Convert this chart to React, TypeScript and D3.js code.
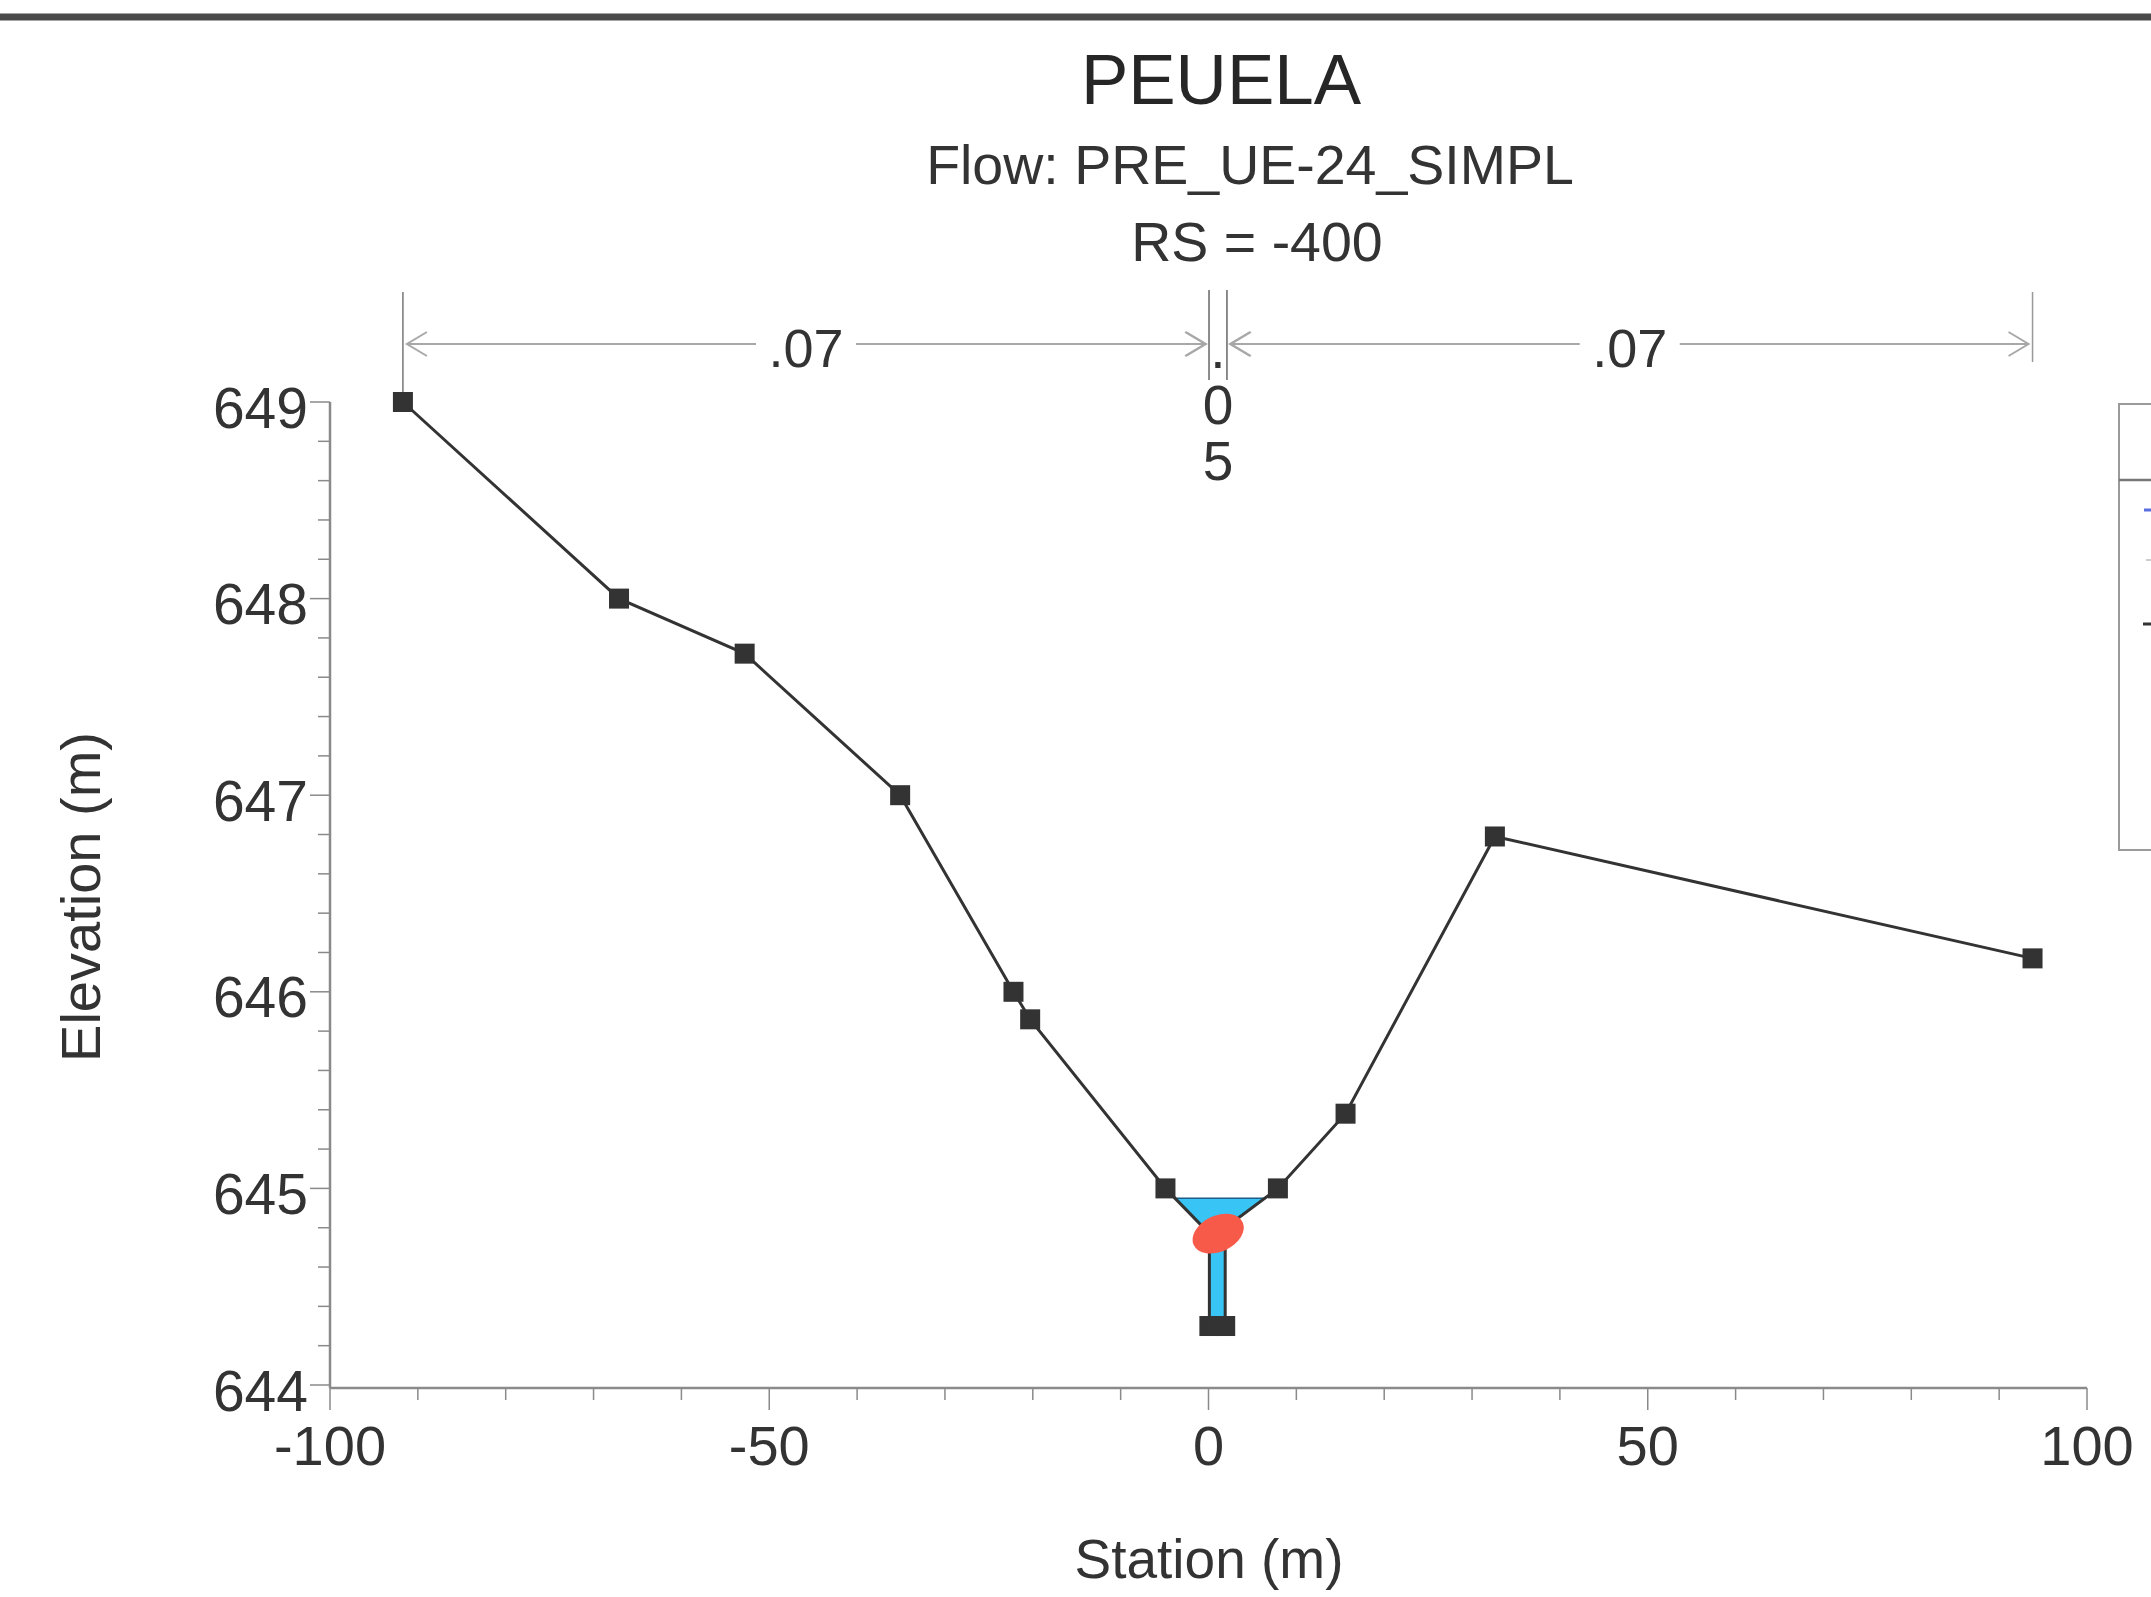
import React from "react";
import * as d3 from "d3";

const W = 2151;
const H = 1597;

// Ground profile (station m, elevation m)
const groundStation = [-91.7, -67.1, -52.8, -35.1, -22.2, -20.3, -4.9, 0.1, 0.1, 1.9, 1.9, 7.9, 15.6, 32.6, 93.8];
const groundElev = [649.0, 648.0, 647.72, 647.0, 646.0, 645.86, 645.0, 644.77, 644.3, 644.3, 644.8, 645.0, 645.38, 646.79, 646.17];
const markerShown = [1, 1, 1, 1, 1, 1, 1, 0, 1, 1, 0, 1, 1, 1, 1];

// Water surface elevation
const wsElev = 644.95;
// Red marker (blob) location
const blobStation = 1.1;
const blobElev = 644.77;

// Manning's n regions
const nBreaks = [-91.7, 0.06, 2.1, 93.8];
const nLabels = [".07", ".05", ".07"];

const xTicks = [-100, -50, 0, 50, 100];
const yTicks = [644, 645, 646, 647, 648, 649];

const titleText = "PEUELA";
const flowText = "Flow: PRE_UE-24_SIMPL";
const rsText = "RS = -400";
const xLabel = "Station (m)";
const yLabel = "Elevation (m)";

const FONT = "'Liberation Sans', Arial, sans-serif";

export default function App() {
  const x = d3.scaleLinear().domain([-100, 100]).range([330, 2087]);
  const y = d3.scaleLinear().domain([644, 649]).range([1385, 402]);

  const pts = groundStation.map((s, i) => [s, groundElev[i]] as [number, number]);
  const line = d3.line<[number, number]>().x((d) => x(d[0])).y((d) => y(d[1]));

  // water polygon: find crossing around lowest section
  const minIdx = groundElev.indexOf(d3.min(groundElev) as number);
  let li = minIdx;
  while (li > 0 && groundElev[li - 1] < wsElev) li--;
  let ri = minIdx;
  while (ri < groundElev.length - 1 && groundElev[ri + 1] < wsElev) ri++;
  const interp = (a: [number, number], b: [number, number]) => {
    const t = (wsElev - a[1]) / (b[1] - a[1]);
    return [a[0] + t * (b[0] - a[0]), wsElev] as [number, number];
  };
  const waterPts: [number, number][] = [
    interp(pts[li - 1], pts[li]),
    ...pts.slice(li, ri + 1),
    interp(pts[ri + 1], pts[ri]),
  ];
  const waterPath = line(waterPts) + "Z";

  const xMinor = d3.range(-100, 100.001, 10);
  const yMinor = d3.range(644, 649.001, 0.2);

  const nLineY = 344;
  const axisColor = "#8a8a8a";
  const annColor = "#a8a8a8";

  const chevron = (px: number, dir: number) =>
    `M${px - dir * 20},${nLineY - 12} L${px},${nLineY} L${px - dir * 20},${nLineY + 12}`;

  return (
    <svg
      width={W}
      height={H}
      style={{ position: "absolute", left: 0, top: 0, display: "block", background: "#fff" }}
      fontFamily={FONT}
    >
      <rect x={0} y={0} width={W} height={H} fill="#fff" />
      {/* top border */}
      <line x1={0} x2={W} y1={17} y2={17} stroke="#4a4a4a" strokeWidth={7} />

      {/* titles */}
      <text x={1221} y={104} fontSize={71} textAnchor="middle" fill="#262626">{titleText}</text>
      <text x={1250} y={184} fontSize={55.5} textAnchor="middle" fill="#333">{flowText}</text>
      <text x={1257} y={261} fontSize={55.5} textAnchor="middle" fill="#333">{rsText}</text>

      {/* n-value annotation */}
      <g>
        <line x1={x(nBreaks[0])} x2={x(nBreaks[0])} y1={292} y2={400} stroke="#777" strokeWidth={1.5} />
        <line x1={x(nBreaks[1])} x2={x(nBreaks[1])} y1={290} y2={380} stroke="#666" strokeWidth={1.5} />
        <line x1={x(nBreaks[2])} x2={x(nBreaks[2])} y1={290} y2={380} stroke="#666" strokeWidth={1.5} />
        <line x1={x(nBreaks[3])} x2={x(nBreaks[3])} y1={292} y2={362} stroke="#999" strokeWidth={1.5} />
        {[0, 2].map((k) => {
          const a = x(nBreaks[k]) + 4;
          const b = x(nBreaks[k + 1]) - 4;
          const mid = (a + b) / 2;
          return (
            <g key={k}>
              <line x1={a} x2={mid - 50} y1={nLineY} y2={nLineY} stroke={annColor} strokeWidth={2} />
              <line x1={mid + 50} x2={b} y1={nLineY} y2={nLineY} stroke={annColor} strokeWidth={2} />
              <path d={chevron(a, -1)} fill="none" stroke={annColor} strokeWidth={2} />
              <path d={chevron(b, 1)} fill="none" stroke={annColor} strokeWidth={2} />
              <text x={mid} y={367} fontSize={54} textAnchor="middle" fill="#333">{nLabels[k]}</text>
            </g>
          );
        })}
        <path d={chevron(x(nBreaks[1]) - 3, 1)} fill="none" stroke={annColor} strokeWidth={2} />
        <path d={chevron(x(nBreaks[2]) + 3, -1)} fill="none" stroke={annColor} strokeWidth={2} />
        {nLabels[1].split("").map((c, i) => (
          <text
            key={i}
            x={(x(nBreaks[1]) + x(nBreaks[2])) / 2}
            y={368 + i * 56}
            fontSize={55}
            textAnchor="middle"
            fill="#333"
          >
            {c}
          </text>
        ))}
      </g>

      {/* axes */}
      <line x1={x(-100)} x2={x(100)} y1={y(644) + 3} y2={y(644) + 3} stroke={axisColor} strokeWidth={2.5} />
      <line x1={x(-100)} x2={x(-100)} y1={y(649)} y2={y(644) + 3} stroke={axisColor} strokeWidth={2.5} />
      {xMinor.map((v) => (
        <line key={"xm" + v} x1={x(v)} x2={x(v)} y1={y(644) + 3} y2={y(644) + (v % 50 === 0 ? 25 : 15)} stroke={axisColor} strokeWidth={1.5} />
      ))}
      {yMinor.map((v) => {
        const major = Math.abs(v - Math.round(v)) < 1e-6;
        return (
          <line key={"ym" + v} x1={x(-100) - (major ? 20 : 12)} x2={x(-100)} y1={y(v)} y2={y(v)} stroke={axisColor} strokeWidth={1.5} />
        );
      })}
      {xTicks.map((v) => (
        <text key={"xt" + v} x={x(v)} y={1465} fontSize={56} textAnchor="middle" fill="#333">{v}</text>
      ))}
      {yTicks.map((v) => (
        <text key={"yt" + v} x={308} y={y(v) + 5} dy="0.36em" fontSize={57} textAnchor="end" fill="#333">{v}</text>
      ))}
      <text x={1209} y={1578} fontSize={55} textAnchor="middle" fill="#333">{xLabel}</text>
      <text transform={`translate(100,897) rotate(-90)`} fontSize={56} textAnchor="middle" fill="#333">{yLabel}</text>

      {/* water */}
      <path d={waterPath} fill="#38c4f4" stroke="#1a5c8a" strokeWidth={1.5} />

      {/* ground */}
      <path d={line(pts) || ""} fill="none" stroke="#333" strokeWidth={3} />
      {pts.map((p, i) =>
        markerShown[i] ? (
          <rect key={"m" + i} x={x(p[0]) - 10} y={y(p[1]) - 10} width={20} height={20} fill="#333" />
        ) : null
      )}

      {/* red marker */}
      <ellipse
        cx={x(blobStation)}
        cy={y(blobElev)}
        rx={27}
        ry={18}
        fill="#f85a4a"
        transform={`rotate(-25 ${x(blobStation)} ${y(blobElev)})`}
      />

      {/* legend (clipped at right edge) */}
      <rect x={2119} y={404} width={60} height={446} fill="#fff" stroke="#9a9a9a" strokeWidth={2} />
      <line x1={2119} x2={W} y1={480} y2={480} stroke="#777" strokeWidth={2.5} />
      <line x1={2144} x2={W} y1={510} y2={510} stroke="#5a6ee0" strokeWidth={3} />
      <line x1={2146} x2={W} y1={560} y2={560} stroke="#cccccc" strokeWidth={2} />
      <line x1={2143} x2={W} y1={624} y2={624} stroke="#333" strokeWidth={3} />
    </svg>
  );
}
